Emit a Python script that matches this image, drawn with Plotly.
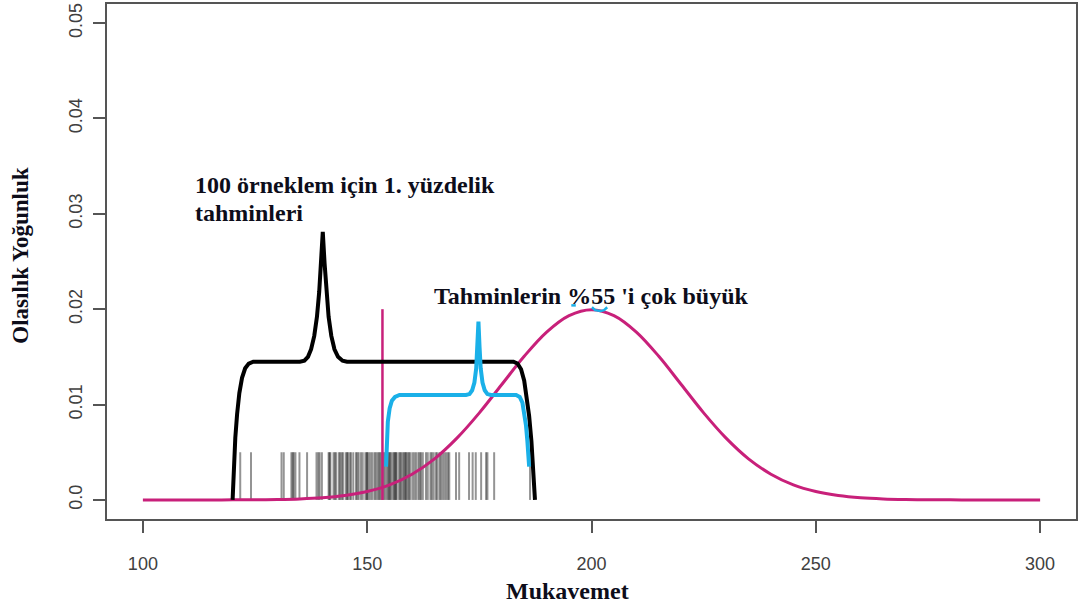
import plotly.graph_objects as go

# Reference strength distribution (density curve, mean 200)
strength_x = [100, 105, 110, 115, 120, 125, 130, 135, 140, 145, 150, 155, 160, 165, 170,
              175, 180, 185, 190, 195, 200, 205, 210, 215, 220, 225, 230, 235, 240, 245,
              250, 255, 260, 265, 270, 275, 280, 285, 290, 295, 300]
strength_y = [0.0, 0.0, 0.000001, 0.000003, 0.000007, 0.000018, 0.000044, 0.00010,
              0.00022, 0.00046, 0.00088, 0.00158, 0.00270, 0.00431, 0.00648, 0.00913,
              0.01210, 0.01506, 0.01760, 0.01933, 0.01995, 0.01933, 0.01760, 0.01506,
              0.01210, 0.00913, 0.00648, 0.00431, 0.00270, 0.00158, 0.00088, 0.00046,
              0.00022, 0.00010, 0.000044, 0.000018, 0.000007, 0.000003, 0.000001, 0.0, 0.0]

# 1st percentile estimates from 100 samples
estimates = [121.7, 124.1, 130.9, 131.4, 133.1, 133.4, 133.6, 134.0, 134.9, 136.6,
             138.7, 139.1, 139.4, 139.9, 141.4, 141.6, 141.8, 142.5, 142.8, 143.1,
             143.7, 144.0, 144.3, 144.6, 145.2, 145.5, 145.7, 146.1, 146.4, 146.9,
             147.5, 147.8, 148.1, 148.6, 149.0, 149.6, 149.9, 150.0, 150.3, 150.7,
             151.1, 151.6, 151.9, 152.3, 152.6, 152.9, 153.2, 153.6, 153.9, 154.3,
             154.6, 154.9, 155.0, 155.3, 155.7, 156.0, 156.2, 156.4, 156.6, 157.1,
             157.4, 157.6, 158.0, 158.3, 158.5, 158.7, 159.0, 159.3, 159.6, 160.1,
             160.5, 160.9, 161.4, 161.7, 162.0, 162.4, 163.1, 163.5, 164.1, 164.4,
             164.8, 165.3, 165.6, 166.1, 166.4, 166.8, 167.2, 167.6, 168.0, 168.3,
             169.8, 170.5, 172.7, 173.5, 174.2, 175.4, 176.5, 176.8, 178.3, 186.3]
rug_height = 0.005

# Range bracket of all estimates (black)
all_x = [120.0, 120.3, 120.6, 121.0, 121.5, 122.1, 122.8, 123.6, 124.6,
         135.0, 136.0, 136.8, 137.5, 138.2, 138.8, 139.3, 139.7, 140.1,
         140.5, 140.9, 141.4, 142.0, 142.7, 143.5, 144.5, 145.5,
         182.6, 183.5, 184.3, 185.0, 185.6, 186.1, 186.6, 187.0, 187.4]
all_y = [0.0, 0.0035, 0.0065, 0.0090, 0.0112, 0.0128, 0.0138, 0.0143, 0.0145,
         0.0145, 0.0146, 0.0150, 0.0158, 0.0172, 0.0192, 0.0218, 0.0248, 0.0281,
         0.0248, 0.0218, 0.0192, 0.0172, 0.0158, 0.0150, 0.0146, 0.0145,
         0.0145, 0.0143, 0.0137, 0.0125, 0.0108, 0.0088, 0.0062, 0.0035, 0.0]

# Bracket of estimates above the true value (blue)
high_x = [154.2, 154.4, 154.6, 155.0, 155.5, 156.2, 157.2,
          172.0, 172.8, 173.4, 173.9, 174.3, 174.55, 174.8, 175.05, 175.3, 175.7,
          176.2, 176.8, 177.6,
          183.2, 184.0, 184.6, 185.0, 185.4, 185.7, 185.95, 186.1]
high_y = [0.0035, 0.0060, 0.0082, 0.0096, 0.0104, 0.0108, 0.0110,
          0.0110, 0.0111, 0.0115, 0.0123, 0.0138, 0.0160, 0.0187, 0.0160, 0.0138, 0.0123,
          0.0115, 0.0111, 0.0110,
          0.0110, 0.0108, 0.0102, 0.0092, 0.0078, 0.0062, 0.0048, 0.0035]

# Small blue mark at the density peak
peak_mark_x = [195.5, 196.5, None, 200.1, 200.8, 202.0, 202.8, 203.5]
peak_mark_y = [0.0204, 0.0204, None, 0.0202, 0.0199, 0.0198, 0.0199, 0.0202]

# True 1st percentile (vertical marker)
true_p1 = 153.4
true_p1_top = 0.020

x_ticks = [100, 150, 200, 250, 300]
y_ticks = [0.0, 0.01, 0.02, 0.03, 0.04, 0.05]
y_tick_text = ["0.0", "0.01", "0.02", "0.03", "0.04", "0.05"]

MAGENTA = "#C8207A"
BLUE = "#1AB0E8"
TEXT = "#0d0d1a"
SERIF = "Liberation Serif, Times New Roman, serif"
SANS = "Liberation Sans, Arial, sans-serif"

fig = go.Figure()

# rug of estimates, one semi-transparent tick each, beneath the curves
for v in estimates:
    fig.add_shape(type="line", xref="x", yref="y", x0=v, x1=v, y0=0, y1=rug_height,
                  line=dict(color="rgba(0,0,0,0.42)", width=2), layer="below")

fig.add_trace(go.Scatter(x=strength_x, y=strength_y, mode="lines",
                         line=dict(color=MAGENTA, width=3, shape="spline"),
                         hoverinfo="skip"))
fig.add_trace(go.Scatter(x=[true_p1, true_p1], y=[0, true_p1_top], mode="lines",
                         line=dict(color=MAGENTA, width=2.5), hoverinfo="skip"))
fig.add_trace(go.Scatter(x=all_x, y=all_y, mode="lines",
                         line=dict(color="black", width=4), hoverinfo="skip"))
fig.add_trace(go.Scatter(x=high_x, y=high_y, mode="lines",
                         line=dict(color=BLUE, width=4), hoverinfo="skip"))
fig.add_trace(go.Scatter(x=peak_mark_x, y=peak_mark_y, mode="lines",
                         line=dict(color=BLUE, width=2.5), hoverinfo="skip",
                         connectgaps=False))

annotations = [
    dict(x=111.1, y=0.0330, xref="x", yref="y", xanchor="left", yanchor="middle",
         text="<b>100 örneklem için 1. yüzdelik</b>", showarrow=False,
         font=dict(family=SERIF, size=24, color=TEXT)),
    dict(x=111.1, y=0.0301, xref="x", yref="y", xanchor="left", yanchor="middle",
         text="<b>tahminleri</b>", showarrow=False,
         font=dict(family=SERIF, size=24, color=TEXT)),
    dict(x=164.5, y=0.0214, xref="x", yref="y", xanchor="left", yanchor="middle",
         text="<b>Tahminlerin %55 'i çok büyük</b>", showarrow=False,
         font=dict(family=SERIF, size=24, color=TEXT)),
    dict(x=0.4748, y=-0.1395, xref="paper", yref="paper", xanchor="center", yanchor="middle",
         text="<b>Mukavemet</b>", showarrow=False,
         font=dict(family=SERIF, size=24, color=TEXT)),
    dict(x=-0.0896, y=0.5116, xref="paper", yref="paper", xanchor="center", yanchor="middle",
         text="<b>Olasılık Yoğunluk</b>", showarrow=False, textangle=-90,
         font=dict(family=SERIF, size=23, color=TEXT)),
]

axis_common = dict(showgrid=False, zeroline=False, showline=True, mirror=True,
                   linecolor="#555555", linewidth=1.5, ticks="outside", ticklen=12,
                   tickcolor="#555555", tickwidth=1.5,
                   tickfont=dict(family=SANS, size=18, color="#404040"))

fig.update_layout(
    width=1080, height=607,
    margin=dict(l=107, r=2, t=3, b=88),
    paper_bgcolor="white", plot_bgcolor="white",
    showlegend=False,
    annotations=annotations,
    xaxis=dict(range=[92, 308], tickvals=x_ticks, ticklabelstandoff=16, **axis_common),
    yaxis=dict(range=[-0.002, 0.052], tickvals=y_ticks, ticktext=y_tick_text,
               tickangle=-90, ticklabelstandoff=4, **axis_common),
)

fig.write_html("out.html")
